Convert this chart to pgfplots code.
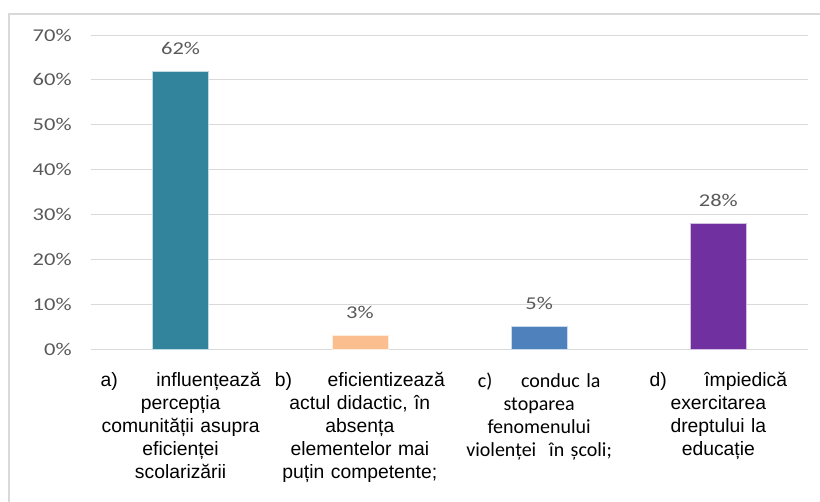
\documentclass[border=0pt]{standalone}
\usepackage{fontspec}
\usepackage{graphicx}
\usepackage{pgfplots}
\pgfplotsset{compat=1.18}
\setmainfont{Liberation Sans}
\newfontfamily\carlito{Carlito}
\definecolor{barA}{HTML}{31849B}
\definecolor{barB}{HTML}{FBBF8F}
\definecolor{barC}{HTML}{4F81BD}
\definecolor{barD}{HTML}{7030A0}
\definecolor{txtgrey}{HTML}{595959}
\definecolor{gridgrey}{HTML}{D9D9D9}
\begin{document}
\begin{tikzpicture}
% 1 px of the reference = 0.75pt; plot area spans px x 91..808, y 35..349
\useasboundingbox (-68.25pt,-114pt) rectangle (546.75pt,261.75pt);
\draw[color=gridgrey, line width=1.5pt] (-61.5pt,-130pt) -- (-61.5pt,251.25pt) -- (560pt,251.25pt);
\begin{axis}[
  at={(0pt,0pt)}, anchor=south west,
  scale only axis, width=537.75pt, height=235.5pt,
  ymin=0, ymax=70, xmin=-0.5, xmax=3.5,
  ytick={0,10,...,70},
  /pgf/number format/assume math mode=true,
  yticklabel={\scalebox{1.25}[1]{\pgfmathprintnumber{\tick}\%}},
  yticklabel style={font=\carlito\fontsize{13.5}{15}\selectfont, color=txtgrey, xshift=-11pt},
  ymajorgrids, grid style={color=gridgrey, line width=0.75pt},
  axis line style={draw=none},
  major tick length=0pt,
  xtick={0,1,2,3},
  xticklabels={
    {\makebox[120pt]{a)\hfill influențează}\\percepția\\comunității asupra\\eficienței\\scolarizării},
    {\makebox[127.5pt]{b)\hfill eficientizează}\\actul didactic, în\\absența\\elementelor mai\\puțin competente;},
    {\carlito\fontsize{15}{17.25}\selectfont\makebox[92pt]{c)\hfill conduc la}\\stoparea\\fenomenului\\violenței\ \ în școli;},
    {\makebox[103pt]{d)\hfill împiedică}\\exercitarea\\dreptului la\\educație}
  },
  xticklabel style={font=\fontsize{14.5}{17.25}\selectfont, align=center, text width=135pt, yshift=-14pt},
  ybar, bar width=42pt, bar shift=0pt,
  nodes near coords={\scalebox{1.25}[1]{\pgfmathprintnumber{\pgfplotspointmeta}\%}},
  nodes near coords style={font=\carlito\fontsize{13.5}{15}\selectfont, color=txtgrey, yshift=9pt},
]
\addplot[fill=barA, draw=white!70!barA] coordinates {(0,62)};
\addplot[fill=barB, draw=white!70!barB] coordinates {(1,3)};
\addplot[fill=barC, draw=white!70!barC] coordinates {(2,5)};
\addplot[fill=barD, draw=white!70!barD] coordinates {(3,28)};
\end{axis}
\end{tikzpicture}
\end{document}
